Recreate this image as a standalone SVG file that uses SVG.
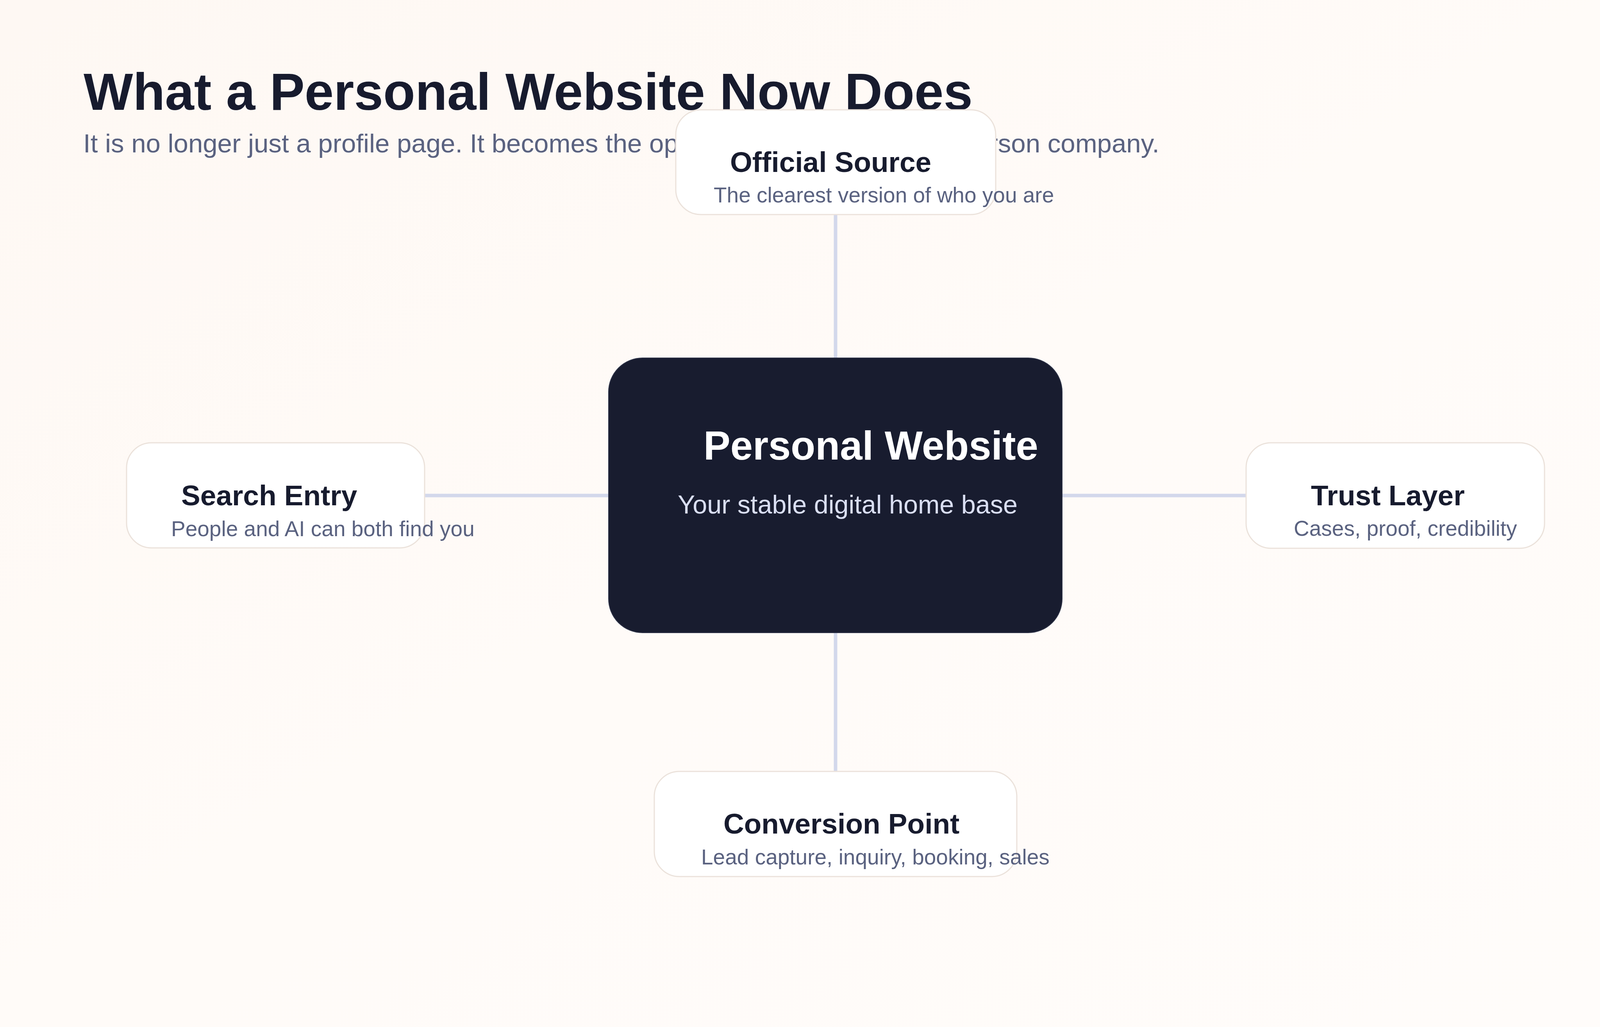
<svg xmlns="http://www.w3.org/2000/svg" width="4278" height="2628" viewBox="0 0 4278 2628">
  <defs>
    <linearGradient id="bg" x1="0" y1="0" x2="1" y2="1">
      <stop offset="0" stop-color="#fef8f3"/>
      <stop offset="0.5" stop-color="#fffbf8"/>
      <stop offset="1" stop-color="#fffcfa"/>
    </linearGradient>
    <style>
      .ttl { font-family: "Liberation Sans", Arial, sans-serif; font-weight: 700; fill: #171b2e; }
      .sub { font-family: "Liberation Sans", Arial, sans-serif; font-weight: 400; fill: #5a6280; }
      .node { fill: #ffffff; stroke: #ebe2db; stroke-width: 3; }
      .nt { font-family: "Liberation Sans", Arial, sans-serif; font-weight: 700; font-size: 73px; fill: #171b2e; }
      .ns { font-family: "Liberation Sans", Arial, sans-serif; font-weight: 400; font-size: 55px; fill: #5a6280; }
      .conn { stroke: #d3d8eb; stroke-width: 9; fill: none; }
    </style>
  </defs>

  <rect x="0" y="0" width="4278" height="2628" fill="url(#bg)"/>

  <g id="header">
    <text class="ttl" x="214" y="281" font-size="134">What a Personal Website Now Does</text>
    <text class="sub" x="213" y="390" font-size="67.2">It is no longer just a profile page. It becomes the operating system of a one-person company.</text>
  </g>

  <g id="connectors">
    <line class="conn" x1="2139" y1="549" x2="2139" y2="916"/>
    <line class="conn" x1="2139" y1="1619" x2="2139" y2="1974"/>
    <line class="conn" x1="1087" y1="1268" x2="1558" y2="1268"/>
    <line class="conn" x1="2719" y1="1268" x2="3190" y2="1268"/>
  </g>

  <g id="node-center">
    <rect x="1558" y="916" width="1161" height="703" rx="87" ry="87" fill="#181c2f" stroke="#2c3146" stroke-width="2"/>
    <text x="1801" y="1176" font-family="Liberation Sans, Arial, sans-serif" font-weight="700" font-size="103" fill="#ffffff">Personal Website</text>
    <text x="1735" y="1314" font-family="Liberation Sans, Arial, sans-serif" font-size="66.5" fill="#d9def2">Your stable digital home base</text>
  </g>

  <g id="node-official-source">
    <rect class="node" x="1730" y="281" width="819" height="268" rx="64" ry="64"/>
    <text class="nt" x="1869" y="440">Official Source</text>
    <text class="ns" x="1827" y="518">The clearest version of who you are</text>
  </g>

  <g id="node-search-entry">
    <rect class="node" x="324" y="1133" width="763" height="269" rx="64" ry="64"/>
    <text class="nt" x="464" y="1293">Search Entry</text>
    <text class="ns" x="438" y="1372">People and AI can both find you</text>
  </g>

  <g id="node-trust-layer">
    <rect class="node" x="3190" y="1133" width="764" height="270" rx="64" ry="64"/>
    <text class="nt" x="3356" y="1293">Trust Layer</text>
    <text class="ns" x="3312" y="1371">Cases, proof, credibility</text>
  </g>

  <g id="node-conversion-point">
    <rect class="node" x="1675" y="1974" width="928" height="269" rx="64" ry="64"/>
    <text class="nt" x="1852" y="2133">Conversion Point</text>
    <text class="ns" x="1795" y="2212">Lead capture, inquiry, booking, sales</text>
  </g>
</svg>
